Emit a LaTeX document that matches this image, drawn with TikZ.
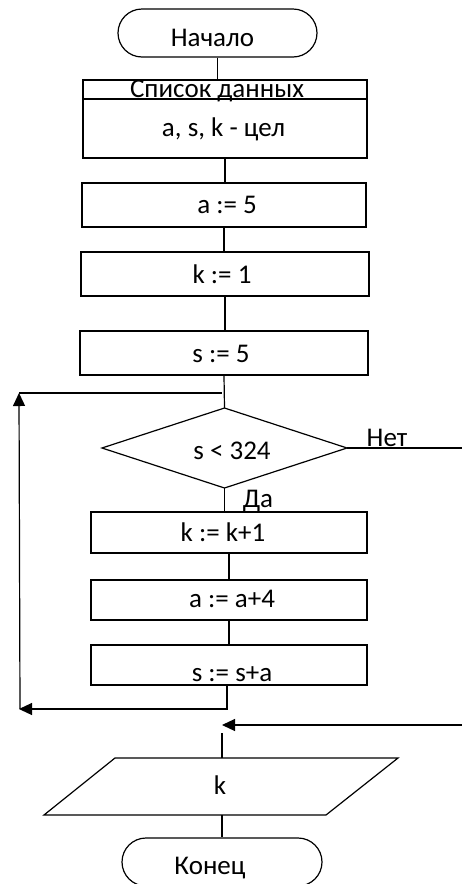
\documentclass[tikz,border=0pt]{standalone}
\usepackage{fontspec}
\setmainfont{Carlito}
\usetikzlibrary{shapes.misc,arrows.meta}
\begin{document}
\begin{tikzpicture}[x=1pt,y=-1pt,line width=1.2pt,
  ln/.style={draw=black,line width=1.2pt},
  term/.style={ln,rounded rectangle,inner sep=0pt},
  blk/.style={ln,rectangle,inner sep=0pt},
  txt/.style={anchor=base,inner sep=0pt,font=\fontsize{27}{31}\selectfont},
  arr/.style={-{Triangle[length=13pt,width=12pt]}}]
\useasboundingbox (0,0) rectangle (462,884);
\clip (0,0) rectangle (462,884);
% shapes
\node[term,minimum width=199pt,minimum height=48pt] (start) at (217.5,33) {};
\node[blk,minimum width=284pt,minimum height=19pt] (dlh) at (225,89.5) {};
\node[blk,minimum width=284pt,minimum height=59pt] (dl) at (225,128.5) {};
\node[blk,minimum width=284pt,minimum height=44pt] (a5) at (224,205) {};
\node[blk,minimum width=288pt,minimum height=44pt] (k1) at (225,274) {};
\node[blk,minimum width=288pt,minimum height=44pt] (s5) at (224,353) {};
\coordinate (dT) at (224.5,408);
\coordinate (dR) at (347,448);
\coordinate (dB) at (224.5,488);
\coordinate (dL) at (102,448);
\draw (dT) -- (dR) -- (dB) -- (dL) -- cycle;
\node[blk,minimum width=276pt,minimum height=41pt] (kk) at (229,532.5) {};
\node[blk,minimum width=276pt,minimum height=40pt] (aa) at (229,600) {};
\node[blk,minimum width=276pt,minimum height=40pt] (ss) at (229,665) {};
\coordinate (pTL) at (115,758);
\coordinate (pTR) at (398,758);
\coordinate (pBR) at (326,815);
\coordinate (pBL) at (44,815);
\draw (pTL) -- (pTR) -- (pBR) -- (pBL) -- cycle;
\coordinate (pT) at (222,758);
\coordinate (pB) at (222,815);
\node[term,minimum width=200pt,minimum height=48pt] (end) at (222,862) {};
% texts
\node[txt] (t1) at (212.5,46) {Начало};
\node[txt] (t2) at (217,97) {Список данных};
\node[txt] (t3) at (223.5,136) {a, s, k - цел};
\node[txt] (t4) at (227,213) {a := 5};
\node[txt] (t5) at (222,283) {k := 1};
\node[txt] (t6) at (221,362) {s := 5};
\node[txt] (t7) at (232,459) {s < 324};
\node[txt] (t8) at (387,446) {Нет};
\node[txt] (t9) at (258,507) {Да};
\node[txt] (t10) at (223,541) {k := k+1};
\node[txt] (t11) at (232,607) {a := a+4};
\node[txt] (t12) at (232,681) {s := s+a};
\node[txt] (t13) at (220,794) {k};
\node[txt] (t14) at (210,874) {Конец};
% connectors
\draw (start.south) -- (start.south |- dlh.north);
\draw (dl.south) -- (dl.south |- a5.north);
\draw (a5.south) -- (a5.south |- k1.north);
\draw (k1.south) -- (k1.south |- s5.north);
\draw (s5.south) -- (dT);
\coordinate (J) at (222,393);
\coordinate (L1) at (19,393);
\coordinate (B) at (20,709);
\coordinate (C) at (227,709);
\draw (L1) -- (J);
\draw[arr] (B) -- (L1);
\draw (dR) -- (462,448) coordinate (R1);
\draw (dB) -- (dB |- kk.north);
\draw (kk.south) -- (kk.south |- aa.north);
\draw (aa.south) -- (aa.south |- ss.north);
\draw[arr] (ss.south -| C) -- (C) -- (19,709);
\coordinate (R2) at (462,725);
\coordinate (M) at (222,725);
\draw[arr] (R2) -- (M);
\coordinate (M2) at (222,733);
\draw (M2) -- (pT);
\draw (pB) -- (end.north -| pB);
\end{tikzpicture}
\end{document}
